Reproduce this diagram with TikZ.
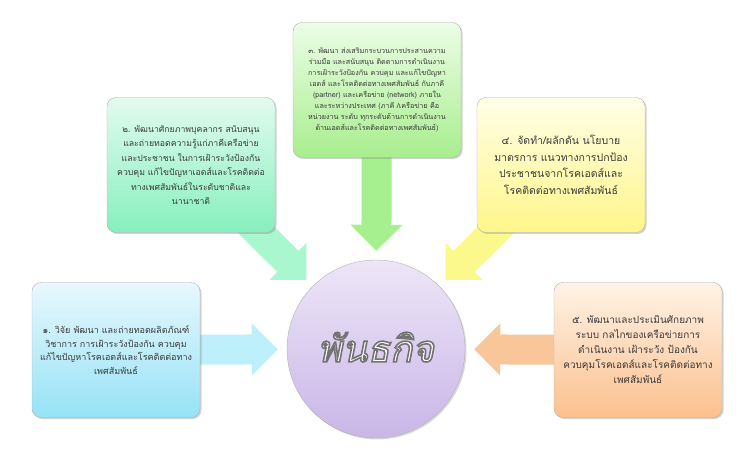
\documentclass[tikz,border=0pt]{standalone}
\usepackage{fontspec}
\newfontfamily\thaifont[Script=Thai]{Loma}
\newfontfamily\titlefont[Script=Thai,FakeSlant=0.2]{Loma}
\usetikzlibrary{arrows.meta,shadows,backgrounds}
\definecolor{textgray}{HTML}{3A3A3A}
\definecolor{topA}{HTML}{E8F8FD}\definecolor{botA}{HTML}{96E2F6}\definecolor{arrA}{HTML}{BDF0FA}
\definecolor{topB}{HTML}{E2FBEF}\definecolor{botB}{HTML}{86F0BD}\definecolor{arrB}{HTML}{A8F7CF}
\definecolor{topC}{HTML}{ECFDE6}\definecolor{botC}{HTML}{A8EE8E}\definecolor{arrC}{HTML}{A7F08F}
\definecolor{topD}{HTML}{FFFEE6}\definecolor{botD}{HTML}{FFF68A}\definecolor{arrD}{HTML}{FBF98C}
\definecolor{topE}{HTML}{FFF3E6}\definecolor{botE}{HTML}{FBC08E}\definecolor{arrE}{HTML}{F9C69A}
\definecolor{hubtop}{HTML}{EDE6F7}\definecolor{hubbot}{HTML}{C9B6E8}
% white letters with a grey outline
\newcommand\outlined[1]{\special{pdf:literal direct 0.45 G 2 Tr 1.6 w}#1\special{pdf:literal direct 0 Tr}}

\begin{document}
\begin{tikzpicture}[x=1pt,y=-1pt,
  box/.style={draw=black!30, rounded corners=9pt, minimum width=168pt, minimum height=135pt,
    align=center, text=textgray, inner sep=2pt,
    drop shadow={opacity=0.35,shadow xshift=1.5pt,shadow yshift=-1.5pt}},
  flow/.style={line width=30pt, -{Triangle[width=52pt,length=26pt,line width=0pt]}, shorten >=9pt},
  hub/.style={circle, draw=black!30, minimum size=178pt, top color=hubtop, bottom color=hubbot,
    text=white, drop shadow={opacity=0.3,shadow xshift=1.5pt,shadow yshift=-1.5pt}}]
\useasboundingbox (0,0) rectangle (750,457);
% mission in the middle
\node[hub] (hub) at (376,349) {\raisebox{4pt}{\titlefont\fontsize{37}{40}\selectfont\outlined{พันธกิจ}}};
% five boxes round it
\node[box, top color=topA, bottom color=botA, font=\thaifont\fontsize{9}{13.5}\selectfont] (b1) at (116,350)
  {๑. วิจัย พัฒนา และถ่ายทอดผลิตภัณฑ์\\วิชาการ การเฝ้าระวังป้องกัน ควบคุม\\แก้ไขปัญหาโรคเอดส์และโรคติดต่อทาง\\เพศสัมพันธ์};
\node[box, top color=topB, bottom color=botB, font=\thaifont\fontsize{8.7}{14.4}\selectfont] (b2) at (191,165)
  {๒. พัฒนาศักยภาพบุคลากร สนับสนุน\\และถ่ายทอดความรู้แก่ภาคีเครือข่าย\\และประชาชน ในการเฝ้าระวังป้องกัน\\ควบคุม แก้ไขปัญหาเอดส์และโรคติดต่อ\\ทางเพศสัมพันธ์ในระดับชาติและ\\นานาชาติ};
\node[box, top color=topC, bottom color=botC, font=\thaifont\fontsize{7.2}{11}\selectfont] (b3) at (377,90)
  {๓. พัฒนา ส่งเสริมกระบวนการประสานความ\\ร่วมมือ และสนับสนุน ติดตามการดำเนินงาน\\การเฝ้าระวังป้องกัน ควบคุม และแก้ไขปัญหา\\เอดส์ และโรคติดต่อทางเพศสัมพันธ์ กับภาคี\\(partner) และเครือข่าย (network) ภายใน\\และระหว่างประเทศ (ภาคี /เครือข่าย คือ\\หน่วยงาน ระดับ ทุกระดับด้านการดำเนินงาน\\ด้านเอดส์และโรคติดต่อทางเพศสัมพันธ์)};
\node[box, top color=topD, bottom color=botD, font=\thaifont\fontsize{10.5}{16.5}\selectfont] (b4) at (561,165)
  {๔. จัดทำ/ผลักดัน นโยบาย\\มาตรการ แนวทางการปกป้อง\\ประชาชนจากโรคเอดส์และ\\โรคติดต่อทางเพศสัมพันธ์};
\node[box, top color=topE, bottom color=botE, font=\thaifont\fontsize{10}{15}\selectfont] (b5) at (638,350)
  {๕. พัฒนาและประเมินศักยภาพ\\ระบบ กลไกของเครือข่ายการ\\ดำเนินงาน เฝ้าระวัง ป้องกัน\\ควบคุมโรคเอดส์และโรคติดต่อทาง\\เพศสัมพันธ์};
% block arrows into the hub
\begin{pgfonlayer}{background}
\fill[white] (0,0) rectangle (750,457);
\draw[flow, arrA] (b1.center) -- (hub);
\draw[flow, arrB] (b2.center) -- (hub);
\draw[flow, arrC] (b3.center) -- (hub);
\draw[flow, arrD] (b4.center) -- (hub);
\draw[flow, arrE] (b5.center) -- (hub);
\end{pgfonlayer}
\end{tikzpicture}
\end{document}
